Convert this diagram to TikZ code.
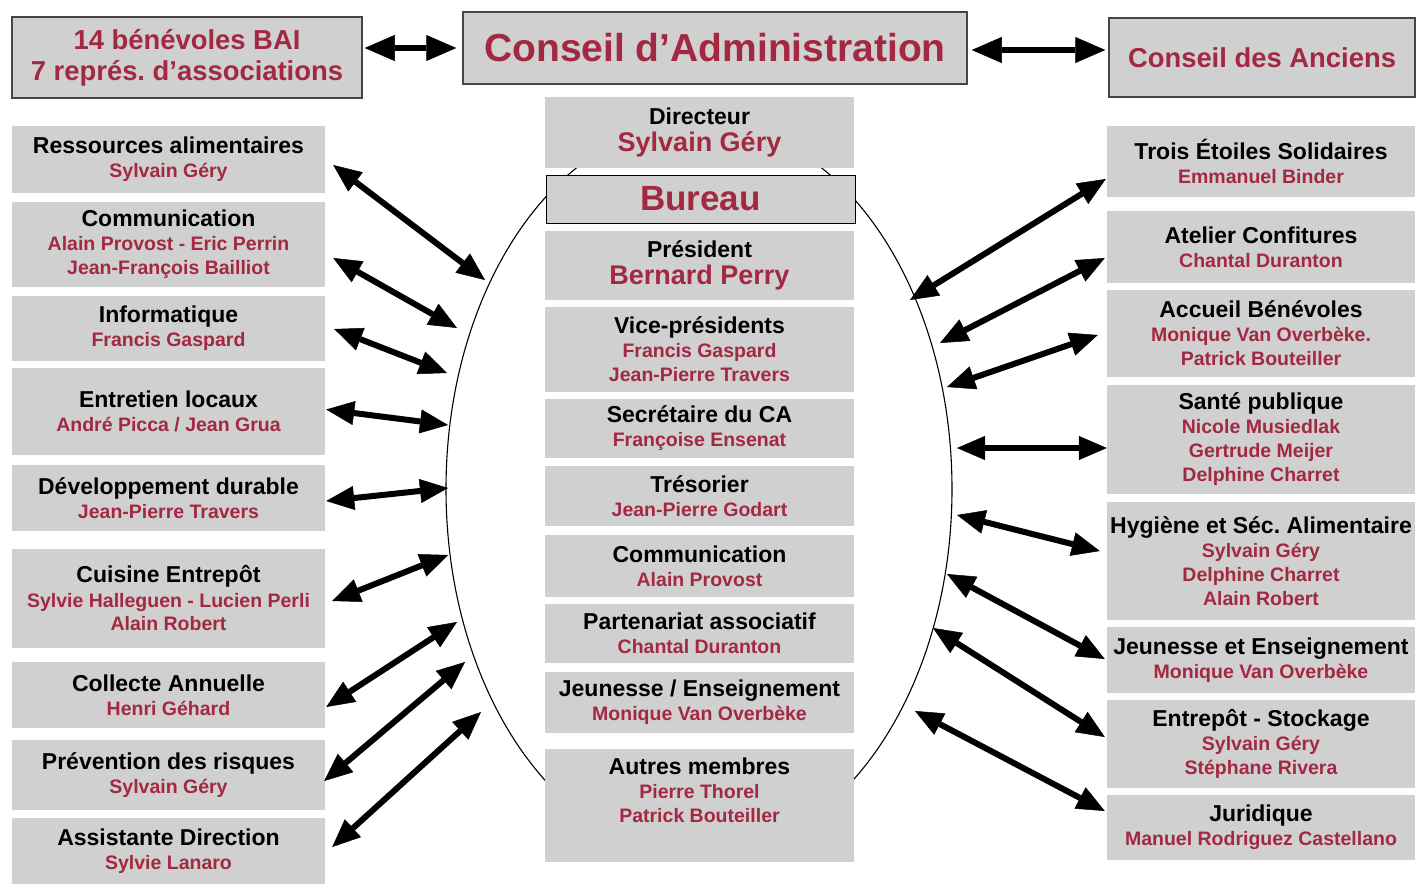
\documentclass[tikz,border=0pt]{standalone}
\usepackage{fontspec}
\setmainfont{Liberation Sans}
\frenchspacing
\usetikzlibrary{arrows.meta}

\definecolor{boxgray}{RGB}{208,208,208}
\definecolor{redtxt}{RGB}{163,40,66}
\definecolor{framegray}{RGB}{70,70,70}

\newcommand\nom[1]{{\color{redtxt}\fontsize{19.5}{24}\selectfont #1}}
\newcommand\nomgrand[1]{{\color{redtxt}\fontsize{27}{30}\selectfont #1}}

\tikzset{
  unit/.style={fill=boxgray, inner sep=0pt, align=center, font=\bfseries\fontsize{23}{24}\selectfont},
  leftunit/.style={unit, minimum width=313pt},
  rightunit/.style={unit, minimum width=308pt},
  midunit/.style={unit, minimum width=309pt},
  topunit/.style={unit, draw=framegray, line width=1.5pt, text=redtxt, font=\bfseries\fontsize{27.4}{31}\selectfont},
  link/.style={line width=6pt, {Triangle[length=28pt,width=24pt,line width=0.5pt]}-{Triangle[length=28pt,width=24pt,line width=0.5pt]}},
  toplink/.style={line width=6.5pt, {Triangle[length=30pt,width=26pt,line width=0.5pt]}-{Triangle[length=30pt,width=26pt,line width=0.5pt]}},
}

\begin{document}
\begin{tikzpicture}[x=1pt, y=-1pt]
\useasboundingbox (0,0) rectangle (1417,884);

% bureau outline
\draw[line width=1.1pt] (699,489) ellipse [x radius=253, y radius=367];

% top row
\node[topunit, minimum width=350pt, minimum height=81pt] (bai) at (187,57.5) {14 bénévoles BAI\\7 représ. d’associations};
\node[topunit, minimum width=504pt, minimum height=72pt, font=\bfseries\fontsize{39}{40}\selectfont] (ca) at (715,48) {Conseil d’Administration};
\node[topunit, minimum width=306pt, minimum height=79pt] (anc) at (1262,57.5) {Conseil des Anciens};

% centre column
\node[midunit, minimum height=71pt] (dir) at (699.5,132.5) {Directeur\\[3pt]\nomgrand{Sylvain Géry}};
\node[midunit, draw=black, line width=1pt, minimum height=48pt, text=redtxt, font=\bfseries\fontsize{35}{36}\selectfont] (bur) at (700.5,199) {Bureau};
\node[midunit, minimum height=69pt] (pres) at (699.5,265.5) {Président\\[3pt]\nomgrand{Bernard Perry}};
\node[midunit, minimum height=85pt] (vice) at (699.5,349.5) {Vice-présidents\\\nom{Francis Gaspard}\\\nom{Jean-Pierre Travers}};
\node[midunit, minimum height=59pt] (secr) at (699.5,428.5) {Secrétaire du CA\\\nom{Françoise Ensenat}};
\node[midunit, minimum height=60pt] (tres) at (699.5,496) {Trésorier\\\nom{Jean-Pierre Godart}};
\node[midunit, minimum height=62pt] (bcomm) at (699.5,566) {Communication\\\nom{Alain Provost}};
\node[midunit, minimum height=59pt] (part) at (699.5,633.5) {Partenariat associatif\\\nom{Chantal Duranton}};
\node[midunit, minimum height=61pt] (bjeun) at (699.5,702.5) {Jeunesse / Enseignement\\\nom{Monique Van Overbèke}};
\node[midunit, minimum height=113pt] (autres) at (699.5,805.5) {};
\node[unit, fill=none] (autrestxt) at (699.5,790) {Autres membres\\\nom{Pierre Thorel}\\\nom{Patrick Bouteiller}};

% left column
\node[leftunit, minimum height=67pt] (lress) at (168.5,159.5) {Ressources alimentaires\\\nom{Sylvain Géry}};
\node[leftunit, minimum height=85pt] (lcomm) at (168.5,244.5) {Communication\\\nom{Alain Provost - Eric Perrin}\\\nom{Jean-François Bailliot}};
\node[leftunit, minimum height=65pt] (linfo) at (168.5,328.5) {Informatique\\\nom{Francis Gaspard}};
\node[leftunit, minimum height=87pt] (lentr) at (168.5,411.5) {Entretien locaux\\\nom{André Picca / Jean Grua}};
\node[leftunit, minimum height=66pt] (ldev) at (168.5,498) {Développement durable\\\nom{Jean-Pierre Travers}};
\node[leftunit, minimum height=99pt] (lcuis) at (168.5,598.5) {Cuisine Entrepôt\\\nom{Sylvie Halleguen - Lucien Perli}\\\nom{Alain Robert}};
\node[leftunit, minimum height=66pt] (lcoll) at (168.5,695) {Collecte Annuelle\\\nom{Henri Géhard}};
\node[leftunit, minimum height=70pt] (lprev) at (168.5,775) {Prévention des risques\\\nom{Sylvain Géry}};
\node[leftunit, minimum height=66pt] (lassi) at (168.5,851) {Assistante Direction\\\nom{Sylvie Lanaro}};

% right column
\node[rightunit, minimum height=71pt] (rtrois) at (1261,161.5) {Trois Étoiles Solidaires\\\nom{Emmanuel Binder}};
\node[rightunit, minimum height=72pt] (rconf) at (1261,247) {Atelier Confitures\\\nom{Chantal Duranton}};
\node[rightunit, minimum height=87pt] (raccu) at (1261,333.5) {Accueil Bénévoles\\\nom{Monique Van Overbèke.}\\\nom{Patrick Bouteiller}};
\node[rightunit, minimum height=109pt] (rsante) at (1261,439.5) {Santé publique\\\nom{Nicole Musiedlak}\\\nom{Gertrude Meijer}\\\nom{Delphine Charret}};
\node[rightunit, minimum height=118pt] (rhyg) at (1261,561) {Hygiène et Séc. Alimentaire\\\nom{Sylvain Géry}\\\nom{Delphine Charret}\\\nom{Alain Robert}};
\node[rightunit, minimum height=66pt] (rjeun) at (1261,660) {Jeunesse et Enseignement\\\nom{Monique Van Overbèke}};
\node[rightunit, minimum height=88pt] (rentr) at (1261,744) {Entrepôt - Stockage\\\nom{Sylvain Géry}\\\nom{Stéphane Rivera}};
\node[rightunit, minimum height=65pt] (rjuri) at (1261,827.5) {Juridique\\\nom{Manuel Rodriguez Castellano}};

% points on the outline
\coordinate (el1) at (485,280);
\coordinate (el2) at (457,328);
\coordinate (el3) at (447,373);
\coordinate (el4) at (448,425);
\coordinate (el5) at (448,488);
\coordinate (el6) at (448,555);
\coordinate (el7) at (457,622);
\coordinate (el8) at (465,662);
\coordinate (el9) at (481,712);
\coordinate (er1) at (910,300);
\coordinate (er2) at (940,343);
\coordinate (er3) at (947,387);
\coordinate (er4) at (957,448);
\coordinate (er5) at (957,515);
\coordinate (er6) at (947,574);
\coordinate (er7) at (933,628);
\coordinate (er8) at (915,711);

% links
\draw[toplink] ([shift={(2,-9.5)}]bai.east) -- ([shift={(-6,0)}]ca.west);
\draw[toplink] ([shift={(4,2)}]ca.east) -- ([shift={(-3,-7.5)}]anc.west);

\draw[link] ([shift={(8,5.5)}]lress.east) -- (el1);
\draw[link] ([shift={(8,13.5)}]lcomm.east) -- (el2);
\draw[link] ([shift={(9,0.5)}]linfo.east) -- (el3);
\draw[link] ([shift={(1,-2)}]lentr.east) -- (el4);
\draw[link] ([shift={(1,3)}]ldev.east) -- (el5);
\draw[link] ([shift={(7,2.5)}]lcuis.east) -- (el6);
\draw[link] ([shift={(1,12)}]lcoll.east) -- (el7);
\draw[link] ([shift={(-1,6)}]lprev.east) -- (el8);
\draw[link] ([shift={(7,-4)}]lassi.east) -- (el9);

\draw[link] (er1) -- ([shift={(-1,17.5)}]rtrois.west);
\draw[link] (er2) -- ([shift={(-2,11)}]rconf.west);
\draw[link] (er3) -- ([shift={(-9,1.5)}]raccu.west);
\draw[link] (er4) -- ([shift={(0,8.5)}]rsante.west);
\draw[link] (er5) -- ([shift={(-7,-10)}]rhyg.west);
\draw[link] (er6) -- ([shift={(-2,-1)}]rjeun.west);
\draw[link] (er7) -- ([shift={(-2,-7)}]rentr.west);
\draw[link] (er8) -- ([shift={(-2,-16.5)}]rjuri.west);

\end{tikzpicture}
\end{document}
